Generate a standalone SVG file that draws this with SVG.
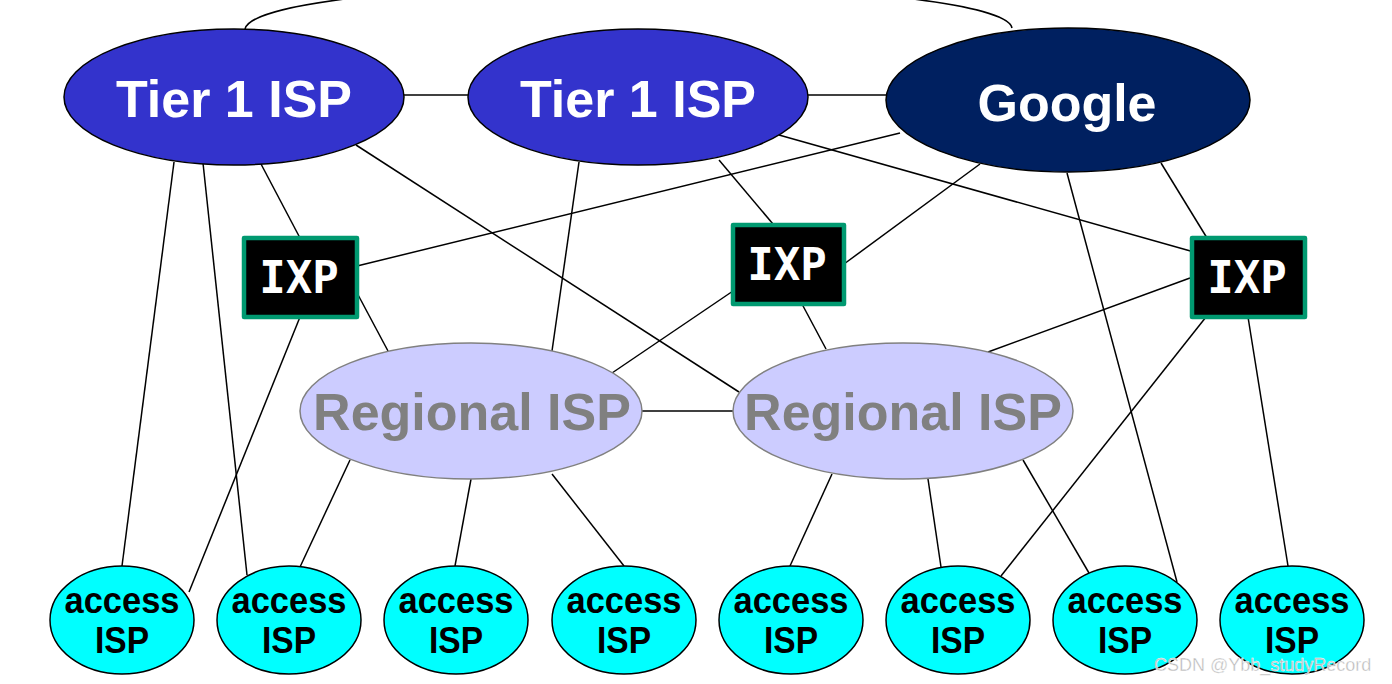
<svg xmlns="http://www.w3.org/2000/svg" width="1392" height="684" viewBox="0 0 1392 684">
<style>
.ln{stroke:#000;stroke-width:1.5;fill:none}
.t1{fill:#3333CC;stroke:#000;stroke-width:1.5}
.ggl{fill:#002060;stroke:#000;stroke-width:1.5}
.big{font-family:"Liberation Sans",Arial,sans-serif;font-weight:bold;font-size:52px;text-anchor:middle}
.reg{fill:#CCCCFF;stroke:#808080;stroke-width:1.5}
.ixp{fill:#000;stroke:#009970;stroke-width:4.5;stroke-linejoin:round}
.ixpt{font-family:"DejaVu Sans Mono",monospace;font-weight:bold;font-size:44px;fill:#fff;text-anchor:middle}
.acc{fill:#00FFFF;stroke:#000;stroke-width:1.5}
.acct{font-family:"Liberation Sans",Arial,sans-serif;font-weight:bold;font-size:36px;fill:#000;text-anchor:middle}
</style>
<rect width="1392" height="684" fill="#fff"/>
<g id="connectors">
<path class="ln" d="M245,29 C250,5 400,-15 628,-15 C856,-15 1008,5 1012,28"/>
<line class="ln" x1="404" y1="95" x2="468" y2="95"/>
<line class="ln" x1="808" y1="95" x2="886" y2="95"/>
<line class="ln" x1="642" y1="411" x2="733" y2="411"/>
<line class="ln" x1="174" y1="162" x2="122" y2="566"/>
<line class="ln" x1="203" y1="163" x2="247" y2="575"/>
<line class="ln" x1="261" y1="164" x2="300" y2="238"/>
<line class="ln" x1="356" y1="145" x2="739" y2="392"/>
<line class="ln" x1="579" y1="162" x2="552" y2="351"/>
<line class="ln" x1="719" y1="160" x2="773" y2="224"/>
<line class="ln" x1="779" y1="135" x2="1194" y2="252"/>
<line class="ln" x1="900" y1="133" x2="357" y2="266"/>
<line class="ln" x1="980" y1="164" x2="844" y2="264"/>
<line class="ln" x1="1067" y1="173" x2="1177" y2="582"/>
<line class="ln" x1="1161" y1="163" x2="1207" y2="238"/>
<line class="ln" x1="300" y1="317" x2="189" y2="592"/>
<line class="ln" x1="356" y1="291" x2="388" y2="351"/>
<line class="ln" x1="733" y1="291" x2="612" y2="373"/>
<line class="ln" x1="802" y1="304" x2="826" y2="349"/>
<line class="ln" x1="1190" y1="278" x2="988" y2="352"/>
<line class="ln" x1="1206" y1="317" x2="1001" y2="576"/>
<line class="ln" x1="1248" y1="317" x2="1288" y2="566"/>
<line class="ln" x1="350" y1="460" x2="300" y2="567"/>
<line class="ln" x1="471" y1="479" x2="455" y2="566"/>
<line class="ln" x1="552" y1="474" x2="624" y2="566"/>
<line class="ln" x1="832" y1="474" x2="790" y2="566"/>
<line class="ln" x1="928" y1="479" x2="941" y2="567"/>
<line class="ln" x1="1023" y1="460" x2="1089" y2="573"/>
</g>
<g id="tier1-left"><ellipse class="t1" cx="234" cy="97" rx="170" ry="68"/><text class="big" x="234" y="117" fill="#fff">Tier 1 ISP</text></g>
<g id="tier1-mid"><ellipse class="t1" cx="638" cy="97" rx="170" ry="68"/><text class="big" x="638" y="117" fill="#fff">Tier 1 ISP</text></g>
<g id="google"><ellipse class="ggl" cx="1068" cy="100" rx="182" ry="72"/><text class="big" x="1067" y="121" fill="#fff">Google</text></g>
<g id="ixp-left"><rect class="ixp" x="244" y="238" width="113" height="79"/><text class="ixpt" x="299" y="293">IXP</text></g>
<g id="ixp-mid"><rect class="ixp" x="733" y="225" width="111" height="79"/><text class="ixpt" x="787" y="280">IXP</text></g>
<g id="ixp-right"><rect class="ixp" x="1192" y="238" width="113" height="79"/><text class="ixpt" x="1247" y="293">IXP</text></g>
<g id="regional-left"><ellipse class="reg" cx="471" cy="411" rx="171" ry="68"/><text class="big" x="472" y="430" fill="#808080">Regional ISP</text></g>
<g id="regional-right"><ellipse class="reg" cx="903" cy="411" rx="170" ry="68"/><text class="big" x="903" y="430" fill="#808080">Regional ISP</text></g>
<g id="access1"><ellipse class="acc" cx="122" cy="620" rx="72" ry="54"/><text class="acct" x="122" y="613" textLength="115" lengthAdjust="spacingAndGlyphs">access</text><text class="acct" x="122" y="653" textLength="54" lengthAdjust="spacingAndGlyphs">ISP</text></g>
<g id="access2"><ellipse class="acc" cx="289" cy="620" rx="72" ry="54"/><text class="acct" x="289" y="613" textLength="115" lengthAdjust="spacingAndGlyphs">access</text><text class="acct" x="289" y="653" textLength="54" lengthAdjust="spacingAndGlyphs">ISP</text></g>
<g id="access3"><ellipse class="acc" cx="456" cy="620" rx="72" ry="54"/><text class="acct" x="456" y="613" textLength="115" lengthAdjust="spacingAndGlyphs">access</text><text class="acct" x="456" y="653" textLength="54" lengthAdjust="spacingAndGlyphs">ISP</text></g>
<g id="access4"><ellipse class="acc" cx="624" cy="620" rx="72" ry="54"/><text class="acct" x="624" y="613" textLength="115" lengthAdjust="spacingAndGlyphs">access</text><text class="acct" x="624" y="653" textLength="54" lengthAdjust="spacingAndGlyphs">ISP</text></g>
<g id="access5"><ellipse class="acc" cx="791" cy="620" rx="72" ry="54"/><text class="acct" x="791" y="613" textLength="115" lengthAdjust="spacingAndGlyphs">access</text><text class="acct" x="791" y="653" textLength="54" lengthAdjust="spacingAndGlyphs">ISP</text></g>
<g id="access6"><ellipse class="acc" cx="958" cy="620" rx="72" ry="54"/><text class="acct" x="958" y="613" textLength="115" lengthAdjust="spacingAndGlyphs">access</text><text class="acct" x="958" y="653" textLength="54" lengthAdjust="spacingAndGlyphs">ISP</text></g>
<g id="access7"><ellipse class="acc" cx="1125" cy="620" rx="72" ry="54"/><text class="acct" x="1125" y="613" textLength="115" lengthAdjust="spacingAndGlyphs">access</text><text class="acct" x="1125" y="653" textLength="54" lengthAdjust="spacingAndGlyphs">ISP</text></g>
<g id="access8"><ellipse class="acc" cx="1292" cy="620" rx="72" ry="54"/><text class="acct" x="1292" y="613" textLength="115" lengthAdjust="spacingAndGlyphs">access</text><text class="acct" x="1292" y="653" textLength="54" lengthAdjust="spacingAndGlyphs">ISP</text></g>
<text x="1154" y="671" font-family="Liberation Sans,Arial,sans-serif" font-size="18" fill="#b8b8b8" stroke="#fff" stroke-width="0.4">CSDN @Ybb_studyRecord</text>
</svg>
